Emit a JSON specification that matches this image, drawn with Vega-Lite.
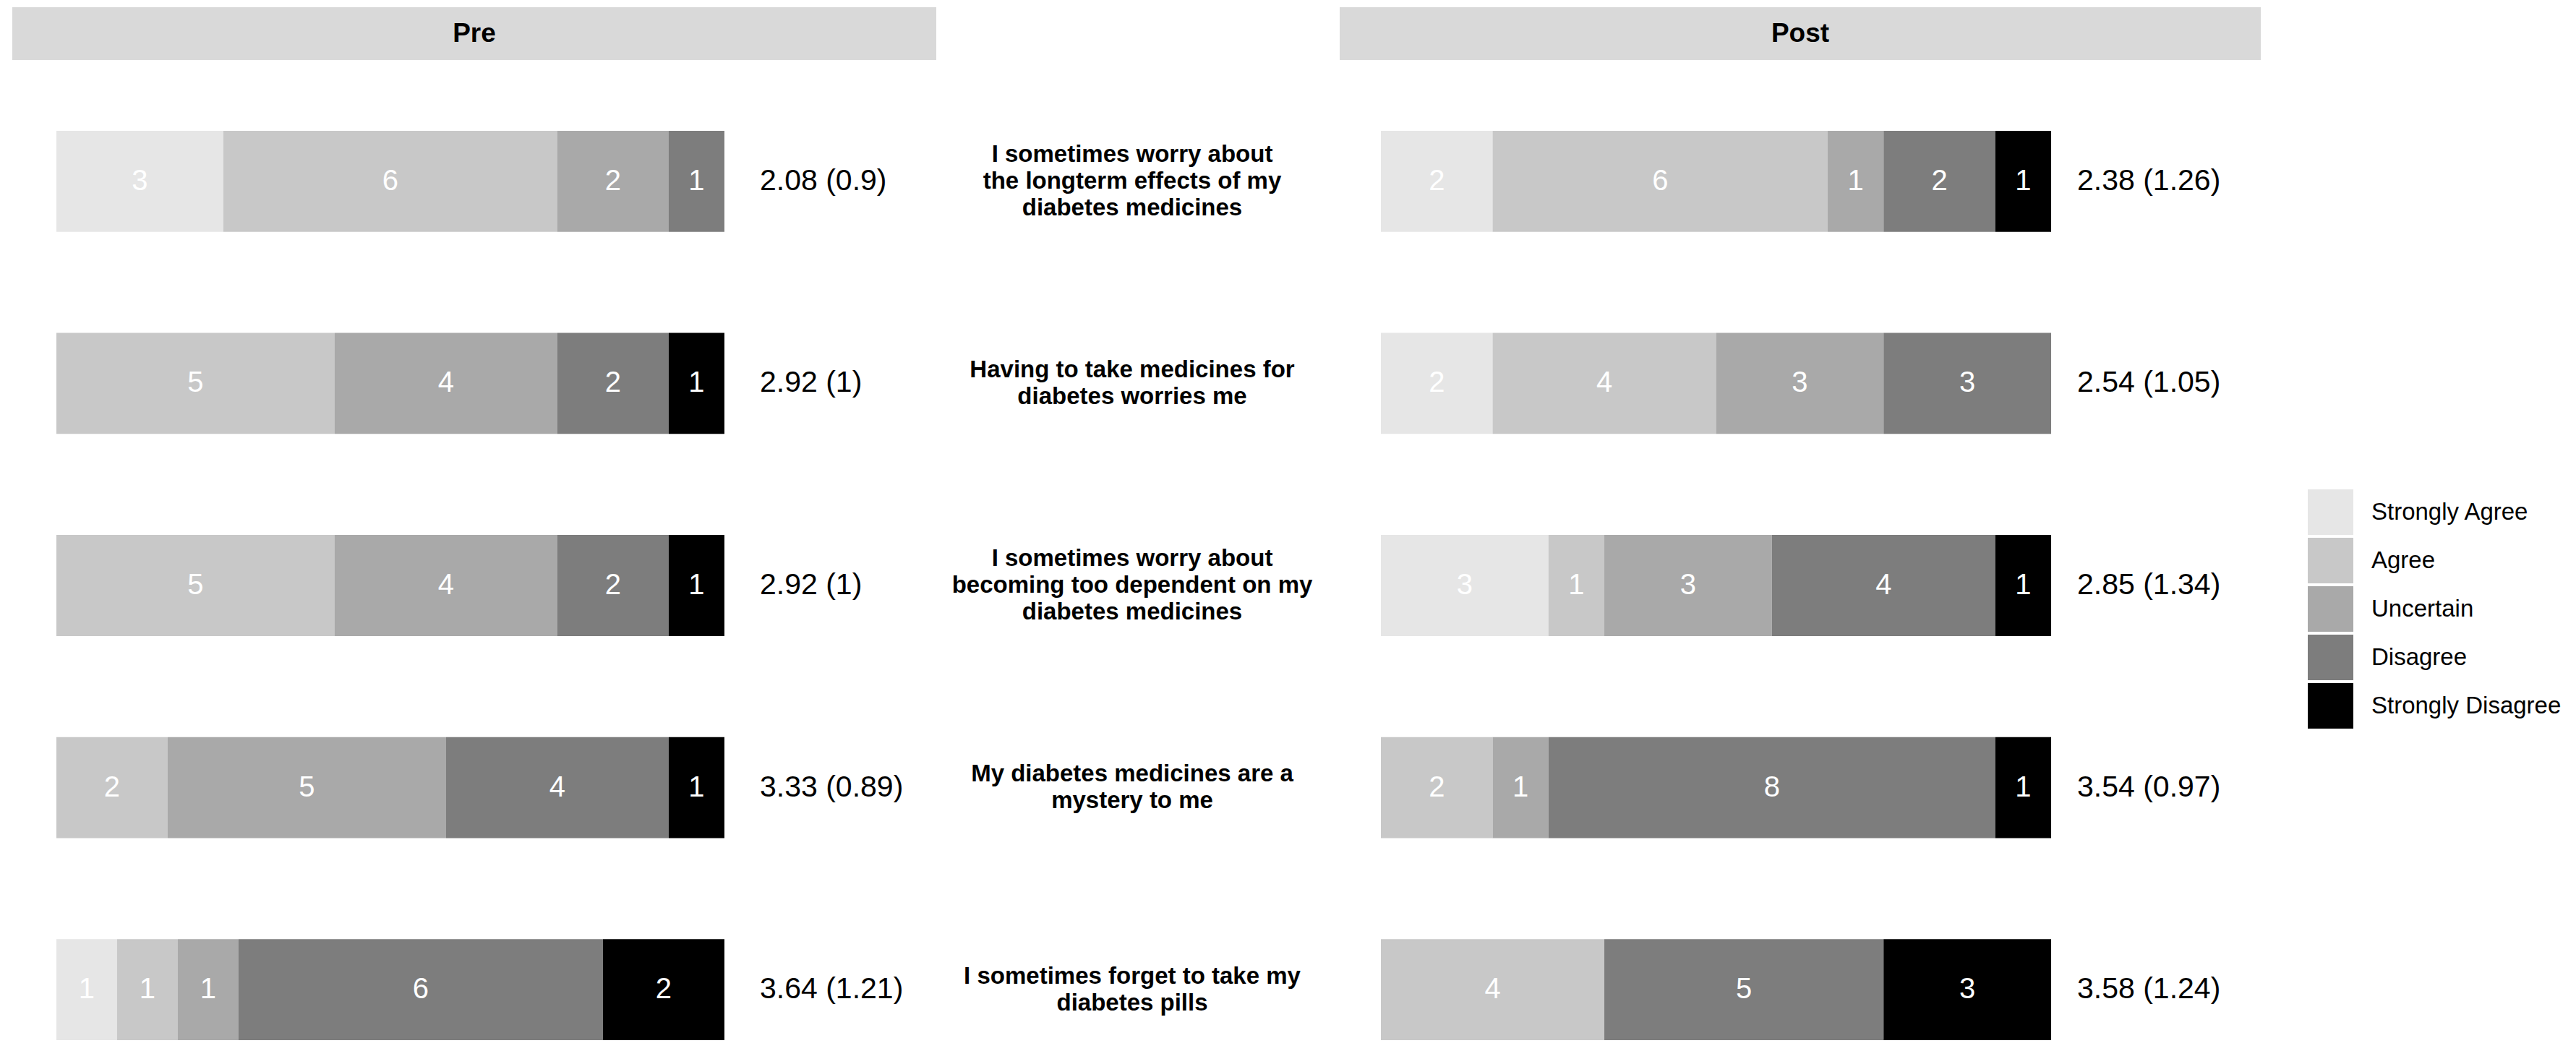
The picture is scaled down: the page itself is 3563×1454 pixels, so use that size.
{
  "$schema": "https://vega.github.io/schema/vega-lite/v6.json",
  "background": "white",
  "padding": {"left": 17, "top": 10, "right": 0, "bottom": 0},
  "autosize": {"type": "pad"},
  "config": {"view": {"stroke": null}, "font": "Liberation Sans"},
  "datasets": {
    "phases": [{"phase": "Pre"}, {"phase": "Post"}],
    "questions": [
      {"q": "1", "label": ["I sometimes worry about", "the longterm effects of my", "diabetes medicines"]},
      {"q": "2", "label": ["Having to take medicines for", "diabetes worries me"]},
      {"q": "3", "label": ["I sometimes worry about", "becoming too dependent on my", "diabetes medicines"]},
      {"q": "4", "label": ["My diabetes medicines are a", "mystery to me"]},
      {"q": "5", "label": ["I sometimes forget to take my", "diabetes pills"]}
    ],
    "means": [
      {"phase": "Pre", "q": "1", "label": "2.08 (0.9)"},
      {"phase": "Pre", "q": "2", "label": "2.92 (1)"},
      {"phase": "Pre", "q": "3", "label": "2.92 (1)"},
      {"phase": "Pre", "q": "4", "label": "3.33 (0.89)"},
      {"phase": "Pre", "q": "5", "label": "3.64 (1.21)"},
      {"phase": "Post", "q": "1", "label": "2.38 (1.26)"},
      {"phase": "Post", "q": "2", "label": "2.54 (1.05)"},
      {"phase": "Post", "q": "3", "label": "2.85 (1.34)"},
      {"phase": "Post", "q": "4", "label": "3.54 (0.97)"},
      {"phase": "Post", "q": "5", "label": "3.58 (1.24)"}
    ],
    "counts": [
      {"phase": "Pre", "q": "1", "response": "Strongly Agree", "level": 1, "n": 3},
      {"phase": "Pre", "q": "1", "response": "Agree", "level": 2, "n": 6},
      {"phase": "Pre", "q": "1", "response": "Uncertain", "level": 3, "n": 2},
      {"phase": "Pre", "q": "1", "response": "Disagree", "level": 4, "n": 1},
      {"phase": "Pre", "q": "2", "response": "Agree", "level": 2, "n": 5},
      {"phase": "Pre", "q": "2", "response": "Uncertain", "level": 3, "n": 4},
      {"phase": "Pre", "q": "2", "response": "Disagree", "level": 4, "n": 2},
      {"phase": "Pre", "q": "2", "response": "Strongly Disagree", "level": 5, "n": 1},
      {"phase": "Pre", "q": "3", "response": "Agree", "level": 2, "n": 5},
      {"phase": "Pre", "q": "3", "response": "Uncertain", "level": 3, "n": 4},
      {"phase": "Pre", "q": "3", "response": "Disagree", "level": 4, "n": 2},
      {"phase": "Pre", "q": "3", "response": "Strongly Disagree", "level": 5, "n": 1},
      {"phase": "Pre", "q": "4", "response": "Agree", "level": 2, "n": 2},
      {"phase": "Pre", "q": "4", "response": "Uncertain", "level": 3, "n": 5},
      {"phase": "Pre", "q": "4", "response": "Disagree", "level": 4, "n": 4},
      {"phase": "Pre", "q": "4", "response": "Strongly Disagree", "level": 5, "n": 1},
      {"phase": "Pre", "q": "5", "response": "Strongly Agree", "level": 1, "n": 1},
      {"phase": "Pre", "q": "5", "response": "Agree", "level": 2, "n": 1},
      {"phase": "Pre", "q": "5", "response": "Uncertain", "level": 3, "n": 1},
      {"phase": "Pre", "q": "5", "response": "Disagree", "level": 4, "n": 6},
      {"phase": "Pre", "q": "5", "response": "Strongly Disagree", "level": 5, "n": 2},
      {"phase": "Post", "q": "1", "response": "Strongly Agree", "level": 1, "n": 2},
      {"phase": "Post", "q": "1", "response": "Agree", "level": 2, "n": 6},
      {"phase": "Post", "q": "1", "response": "Uncertain", "level": 3, "n": 1},
      {"phase": "Post", "q": "1", "response": "Disagree", "level": 4, "n": 2},
      {"phase": "Post", "q": "1", "response": "Strongly Disagree", "level": 5, "n": 1},
      {"phase": "Post", "q": "2", "response": "Strongly Agree", "level": 1, "n": 2},
      {"phase": "Post", "q": "2", "response": "Agree", "level": 2, "n": 4},
      {"phase": "Post", "q": "2", "response": "Uncertain", "level": 3, "n": 3},
      {"phase": "Post", "q": "2", "response": "Disagree", "level": 4, "n": 3},
      {"phase": "Post", "q": "3", "response": "Strongly Agree", "level": 1, "n": 3},
      {"phase": "Post", "q": "3", "response": "Agree", "level": 2, "n": 1},
      {"phase": "Post", "q": "3", "response": "Uncertain", "level": 3, "n": 3},
      {"phase": "Post", "q": "3", "response": "Disagree", "level": 4, "n": 4},
      {"phase": "Post", "q": "3", "response": "Strongly Disagree", "level": 5, "n": 1},
      {"phase": "Post", "q": "4", "response": "Agree", "level": 2, "n": 2},
      {"phase": "Post", "q": "4", "response": "Uncertain", "level": 3, "n": 1},
      {"phase": "Post", "q": "4", "response": "Disagree", "level": 4, "n": 8},
      {"phase": "Post", "q": "4", "response": "Strongly Disagree", "level": 5, "n": 1},
      {"phase": "Post", "q": "5", "response": "Agree", "level": 2, "n": 4},
      {"phase": "Post", "q": "5", "response": "Disagree", "level": 4, "n": 5},
      {"phase": "Post", "q": "5", "response": "Strongly Disagree", "level": 5, "n": 3}
    ]
  },
  "spacing": 0,
  "hconcat": [
    {
      "spacing": 98,
      "vconcat": [
        {
          "width": 1278, "height": 73,
          "data": {"name": "phases"},
          "transform": [{"filter": "datum.phase === 'Pre'"}],
          "layer": [
            {"mark": {"type": "rect", "color": "#d9d9d9"},
             "encoding": {"x": {"value": 0}, "x2": {"value": "width"}, "y": {"value": 0}, "y2": {"value": "height"}}},
            {"mark": {"type": "text", "fontSize": 37, "fontWeight": "bold", "color": "black", "baseline": "middle", "align": "center"},
             "encoding": {"text": {"field": "phase"}}}
          ]
        },
        {
          "width": 1278, "height": 1258,
          "layer": [
            {
              "data": {"name": "counts"},
              "transform": [{"filter": "datum.phase === 'Pre'"}],
              "mark": {"type": "bar"},
              "encoding": {
                "y": {"field": "q", "type": "nominal", "axis": null, "scale": {"type": "band", "paddingInner": 0.5, "paddingOuter": 0}},
                "x": {"field": "n", "type": "quantitative", "stack": "normalize", "axis": null, "scale": {"domain": [-0.066, 1.3171], "nice": false, "zero": false}},
                "color": {"field": "response", "type": "nominal",
                  "scale": {"domain": ["Strongly Agree", "Agree", "Uncertain", "Disagree", "Strongly Disagree"], "range": ["#e6e6e6", "#c8c8c8", "#a9a9a9", "#7d7d7d", "#000000"]},
                  "legend": {"title": null, "orient": "none", "legendX": 3175, "legendY": 667, "symbolType": "square", "symbolSize": 3969, "symbolStrokeWidth": 0, "symbolOpacity": 1, "labelFontSize": 33, "labelFont": "Liberation Sans", "labelColor": "black", "labelOffset": 25, "rowPadding": 4, "padding": 0, "labelLimit": 400}},
                "order": {"field": "level", "type": "quantitative"}
              }
            },
            {
              "data": {"name": "counts"},
              "transform": [{"filter": "datum.phase === 'Pre'"}],
              "mark": {"type": "text", "color": "white", "fontSize": 40, "baseline": "middle", "align": "center"},
              "encoding": {
                "y": {"field": "q", "type": "nominal", "axis": null},
                "x": {"field": "n", "type": "quantitative", "stack": "normalize", "bandPosition": 0.5, "axis": null},
                "detail": {"field": "response"},
                "order": {"field": "level", "type": "quantitative"},
                "text": {"field": "n"}
              }
            },
            {
              "data": {"name": "means"},
              "transform": [{"filter": "datum.phase === 'Pre'"}],
              "mark": {"type": "text", "color": "black", "fontSize": 41, "baseline": "middle", "align": "left", "dx": 49},
              "encoding": {
                "y": {"field": "q", "type": "nominal", "axis": null},
                "x": {"datum": 1, "type": "quantitative"},
                "text": {"field": "label"}
              }
            }
          ]
        }
      ]
    },
    {
      "spacing": 98,
      "vconcat": [
        {
          "width": 558, "height": 73,
          "data": {"values": [{"phase": ""}]},
          "mark": {"type": "rect", "opacity": 0},
          "encoding": {"x": {"value": 0}, "x2": {"value": "width"}, "y": {"value": 0}, "y2": {"value": "height"}}
        },
        {
          "width": 558, "height": 1258,
          "data": {"name": "questions"},
          "encoding": {
            "y": {"field": "q", "type": "nominal", "axis": null, "scale": {"type": "band", "paddingInner": 0.5, "paddingOuter": 0}},
            "text": {"field": "label"}
          },
          "layer": [
            {
              "transform": [{"filter": "length(datum.label) === 3"}],
              "mark": {"type": "text", "fontWeight": "bold", "fontSize": 33, "lineHeight": 37, "baseline": "middle", "align": "center", "color": "black", "dx": -8, "dy": -37}
            },
            {
              "transform": [{"filter": "length(datum.label) === 2"}],
              "mark": {"type": "text", "fontWeight": "bold", "fontSize": 33, "lineHeight": 37, "baseline": "middle", "align": "center", "color": "black", "dx": -8, "dy": -18.5}
            }
          ]
        }
      ]
    },
    {
      "spacing": 98,
      "vconcat": [
        {
          "width": 1274, "height": 73,
          "data": {"name": "phases"},
          "transform": [{"filter": "datum.phase === 'Post'"}],
          "layer": [
            {"mark": {"type": "rect", "color": "#d9d9d9"},
             "encoding": {"x": {"value": 0}, "x2": {"value": "width"}, "y": {"value": 0}, "y2": {"value": "height"}}},
            {"mark": {"type": "text", "fontSize": 37, "fontWeight": "bold", "color": "black", "baseline": "middle", "align": "center"},
             "encoding": {"text": {"field": "phase"}}}
          ]
        },
        {
          "width": 1274, "height": 1258,
          "layer": [
            {
              "data": {"name": "counts"},
              "transform": [{"filter": "datum.phase === 'Post'"}],
              "mark": {"type": "bar"},
              "encoding": {
                "y": {"field": "q", "type": "nominal", "axis": null, "scale": {"type": "band", "paddingInner": 0.5, "paddingOuter": 0}},
                "x": {"field": "n", "type": "quantitative", "stack": "normalize", "axis": null, "scale": {"domain": [-0.0615, 1.3128], "nice": false, "zero": false}},
                "color": {"field": "response", "type": "nominal",
                  "scale": {"domain": ["Strongly Agree", "Agree", "Uncertain", "Disagree", "Strongly Disagree"], "range": ["#e6e6e6", "#c8c8c8", "#a9a9a9", "#7d7d7d", "#000000"]},
                  "legend": {"title": null, "orient": "none", "legendX": 3175, "legendY": 667, "symbolType": "square", "symbolSize": 3969, "symbolStrokeWidth": 0, "symbolOpacity": 1, "labelFontSize": 33, "labelFont": "Liberation Sans", "labelColor": "black", "labelOffset": 25, "rowPadding": 4, "padding": 0, "labelLimit": 400}},
                "order": {"field": "level", "type": "quantitative"}
              }
            },
            {
              "data": {"name": "counts"},
              "transform": [{"filter": "datum.phase === 'Post'"}],
              "mark": {"type": "text", "color": "white", "fontSize": 40, "baseline": "middle", "align": "center"},
              "encoding": {
                "y": {"field": "q", "type": "nominal", "axis": null},
                "x": {"field": "n", "type": "quantitative", "stack": "normalize", "bandPosition": 0.5, "axis": null},
                "detail": {"field": "response"},
                "order": {"field": "level", "type": "quantitative"},
                "text": {"field": "n"}
              }
            },
            {
              "data": {"name": "means"},
              "transform": [{"filter": "datum.phase === 'Post'"}],
              "mark": {"type": "text", "color": "black", "fontSize": 41, "baseline": "middle", "align": "left", "dx": 36},
              "encoding": {
                "y": {"field": "q", "type": "nominal", "axis": null},
                "x": {"datum": 1, "type": "quantitative"},
                "text": {"field": "label"}
              }
            }
          ]
        }
      ]
    }
  ]
}
